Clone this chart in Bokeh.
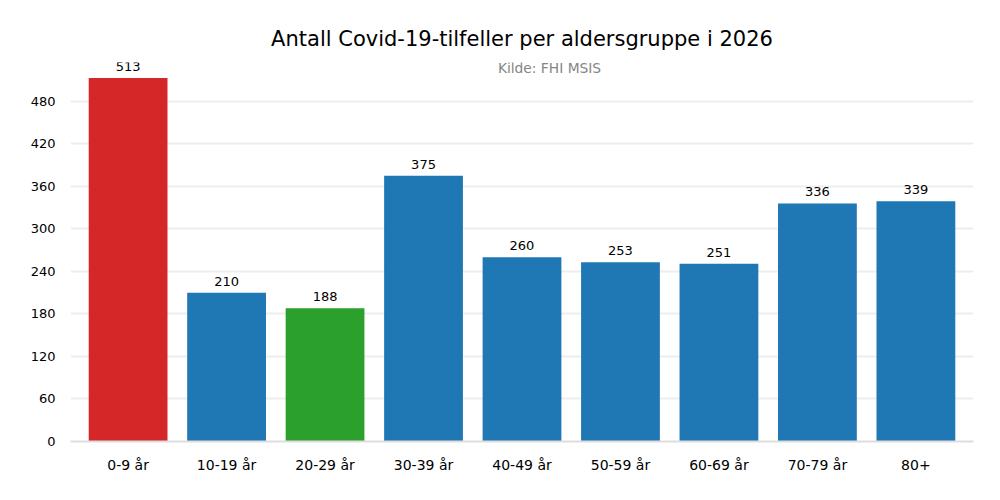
from bokeh.plotting import figure
from bokeh.models import ColumnDataSource, FixedTicker, Range1d, Label, LabelSet
from bokeh.core.properties import value
from bokeh.embed import file_html
from bokeh.resources import INLINE

categories = ["0-9 år", "10-19 år", "20-29 år", "30-39 år", "40-49 år",
              "50-59 år", "60-69 år", "70-79 år", "80+"]
cases = [513, 210, 188, 375, 260, 253, 251, 336, 339]
colors = ["#d62728", "#1f77b4", "#2ca02c", "#1f77b4", "#1f77b4",
          "#1f77b4", "#1f77b4", "#1f77b4", "#1f77b4"]
y_ticks = [0, 60, 120, 180, 240, 300, 360, 420, 480]

idx = list(range(len(categories)))
src = ColumnDataSource(dict(x=idx, top=cases, color=colors,
                            label=[str(v) for v in cases]))

FONT = "DejaVu Sans"

p = figure(width=1000, height=500, output_backend="svg", toolbar_location=None,
           x_range=Range1d(-0.585, 8.585), y_range=Range1d(0, 535),
           min_border_left=70, min_border_right=27, min_border_bottom=59,
           min_border_top=62)

p.vbar(x="x", top="top", width=0.8, fill_color="color", line_color=None, source=src)

labels = LabelSet(x="x", y="top", text="label", source=src, text_align="center",
                  text_baseline="bottom", y_offset=7, text_font_size="13px",
                  text_font=value(FONT), text_color="#000000")
p.add_layout(labels)

p.title.text = "Antall Covid-19-tilfeller per aldersgruppe i 2026"
p.title.align = "center"
p.title.text_font = FONT
p.title.text_font_size = "21px"
p.title.text_font_style = "normal"
p.title.text_color = "#000000"
p.title.standoff = 23

sub = Label(x=479, y=374, x_units="screen", y_units="screen", text="Kilde: FHI MSIS",
            text_align="center", text_baseline="middle", text_font=FONT,
            text_font_size="13.8px", text_color="#858585")
p.add_layout(sub)

p.outline_line_color = None
p.xgrid.grid_line_color = None
p.ygrid.grid_line_color = "#eeeeee"
p.ygrid.grid_line_width = 2
p.ygrid.ticker = FixedTicker(ticks=y_ticks)

p.xaxis.ticker = FixedTicker(ticks=idx)
p.xaxis.major_label_overrides = {i: c for i, c in zip(idx, categories)}
p.xaxis.axis_line_color = "#dddddd"
p.xaxis.axis_line_width = 2
p.xaxis.major_tick_line_color = None
p.xaxis.minor_tick_line_color = None
p.xaxis.major_label_text_font = FONT
p.xaxis.major_label_text_font_size = "14px"
p.xaxis.major_label_text_color = "#000000"
p.xaxis.major_label_standoff = 9

p.yaxis.ticker = FixedTicker(ticks=y_ticks)
p.yaxis.axis_line_color = None
p.yaxis.major_tick_line_color = None
p.yaxis.minor_tick_line_color = None
p.yaxis.major_label_text_font = FONT
p.yaxis.major_label_text_font_size = "13px"
p.yaxis.major_label_text_color = "#000000"
p.yaxis.major_label_standoff = 9

open("out.html", "w").write(file_html(p, INLINE))
